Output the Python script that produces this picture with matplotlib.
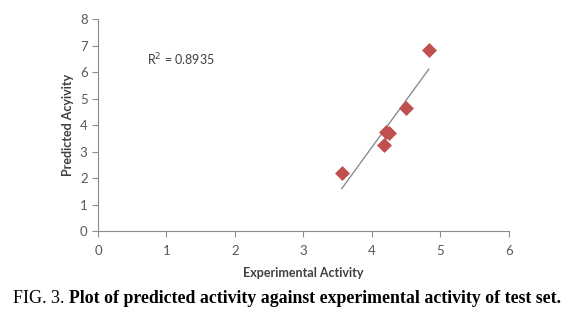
import numpy as np
import matplotlib.pyplot as plt

# test set values
experimental = [3.56, 4.18, 4.21, 4.25, 4.50, 4.83]
predicted = [2.19, 3.26, 3.74, 3.70, 4.66, 6.85]
r2_label = 'R$^2$ = 0.8935'

x = np.array(experimental)
y = np.array(predicted)
slope, intercept = np.polyfit(x, y, 1)
x_line = np.array([x.min(), x.max()])

fig = plt.figure(figsize=(5.73, 3.24), dpi=100)
ax = fig.add_axes([0.171, 0.287, 0.717, 0.654])

ax.plot(x_line, slope * x_line + intercept, color='#8c8c8c', lw=1.0, zorder=2)
ax.scatter(x, y, marker='D', s=50, color='#c0504d', edgecolors='#c0504d',
           linewidths=0.5, zorder=3)

ax.set_xlim(0, 6)
ax.set_ylim(0, 8)
ax.set_xticks(range(0, 7))
ax.set_yticks(range(0, 9))

for side in ['top', 'right']:
    ax.spines[side].set_visible(False)
for side in ['left', 'bottom']:
    ax.spines[side].set_color('#8c8c8c')
    ax.spines[side].set_linewidth(0.8)
ax.tick_params(colors='#8c8c8c', labelcolor='#595959', length=4, width=0.8,
               labelsize=9.5)
for lab in ax.get_xticklabels() + ax.get_yticklabels():
    lab.set_family('Lato')
ax.tick_params(axis='x', pad=6)

ax.set_xlabel('Experimental Activity', family='Lato', fontweight='bold',
              fontsize=9, color='#404040', labelpad=7)
ax.set_ylabel('Predicted Acyivity', family='Lato', fontweight='bold',
              fontsize=9, color='#404040', labelpad=4)

ax.text(0.72, 6.45, r2_label, family='Lato', fontsize=9, color='#404040',
        va='center', ha='left')

cap1 = fig.text(0.022, 0.08, 'FIG. 3.', family='Liberation Serif', fontsize=13,
                ha='left', va='center')
fig.canvas.draw()
bb = cap1.get_window_extent()
fig.text(bb.x1 / fig.bbox.width + 0.008, 0.08,
         'Plot of predicted activity against experimental activity of test set.',
         family='Liberation Serif', fontweight='bold', fontsize=12.8,
         ha='left', va='center')

fig.savefig('out.png', dpi=100)
